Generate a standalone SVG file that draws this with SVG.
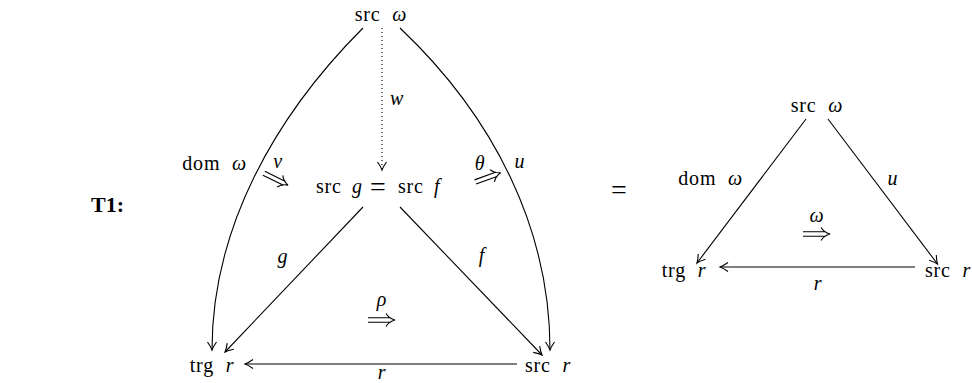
<svg xmlns="http://www.w3.org/2000/svg" width="972" height="383" viewBox="0 0 972 383">
<style>
text{font-family:"Liberation Serif","Times New Roman",serif;font-size:20px;fill:#000;letter-spacing:0.8px;word-spacing:6px}
.i{font-style:italic}
.b{font-weight:bold;font-size:22px;letter-spacing:0}
.eq{font-size:28px;letter-spacing:0}
.e{stroke:#000;stroke-width:1.1;fill:none}
.d{stroke:#000;stroke-width:1.1;fill:none;stroke-dasharray:1 3}
.m{text-anchor:middle}
.r{text-anchor:end}
</style>
<defs>
<marker id="ah" markerUnits="userSpaceOnUse" markerWidth="16" markerHeight="16" viewBox="-10 -8 12 16" refX="0" refY="0" orient="auto">
<path d="M-8,-4.5 Q-3,-1 0,0 Q-3,1 -8,4.5" stroke="#000" stroke-width="1.1" fill="none"/>
</marker>
<g id="dar">
<path d="M-13,-2.2 L10,-2.2 M-13,2.2 L10,2.2 M5,-6.5 Q8,-1.5 14,0 Q8,1.5 5,6.5" stroke="#000" stroke-width="1.1" fill="none"/>
</g>
</defs>

<text class="b" x="91" y="212">T1:</text>
<text x="619" y="199" class="m eq">=</text>

<g id="connectors">
<path class="e" d="M363,28 C273,118 212,230 212,350" marker-end="url(#ah)"/>
<path class="e" d="M400,28 C495,118 550,230 550,350" marker-end="url(#ah)"/>
<path class="d" d="M382,28 L382,170" marker-end="url(#ah)"/>
<path class="e" d="M363,207 L225,352" marker-end="url(#ah)"/>
<path class="e" d="M400,207 L542,355" marker-end="url(#ah)"/>
<path class="e" d="M517,364 L245,364" marker-end="url(#ah)"/>
<path class="e" d="M806,119 L697,263" marker-end="url(#ah)"/>
<path class="e" d="M828,119 L937.5,264" marker-end="url(#ah)"/>
<path class="e" d="M915,267 L720,267" marker-end="url(#ah)"/>
<use href="#dar" transform="translate(275.5,179) rotate(26)"/>
<use href="#dar" transform="translate(487.5,177.5) rotate(-20)"/>
<use href="#dar" transform="translate(381,320)"/>
<use href="#dar" transform="translate(816,234)"/>
</g>

<g id="labels">
<text class="i" x="390" y="105">w</text>
<text class="i m" x="278" y="168">ν</text>
<text class="i m" x="480" y="170">θ</text>
<text class="i m" x="520" y="168">u</text>
<text class="i m" x="283" y="263">g</text>
<text class="i m" x="482" y="262">f</text>
<text class="i m" x="382" y="306">ρ</text>
<text class="i m" x="382" y="379">r</text>
<text class="i m" x="893" y="185">u</text>
<text class="i m" x="817" y="222">ω</text>
<text class="i m" x="818" y="290">r</text>
</g>

<g id="n-src-omega"><text class="m" x="381" y="21">src <tspan class="i">ω</tspan></text></g>
<g id="n-src-g-f"><text x="316" y="193">src<tspan class="i" x="352">g</tspan><tspan class="eq" x="370" y="196">=</tspan><tspan x="398" y="193">src</tspan><tspan class="i" x="434">f</tspan></text></g>
<g id="n-dom-omega"><text class="r" x="247" y="170">dom <tspan class="i">ω</tspan></text></g>
<g id="n-trg-r"><text class="m" x="212" y="372">trg <tspan class="i">r</tspan></text></g>
<g id="n-src-r"><text class="m" x="548" y="372">src <tspan class="i">r</tspan></text></g>

<g id="n2-src-omega"><text class="m" x="817" y="112">src <tspan class="i">ω</tspan></text></g>
<g id="n2-dom-omega"><text class="r" x="743" y="185">dom <tspan class="i">ω</tspan></text></g>
<g id="n2-trg-r"><text class="m" x="684" y="277">trg <tspan class="i">r</tspan></text></g>
<g id="n2-src-r"><text class="r" x="971" y="277">src <tspan class="i">r</tspan></text></g>
</svg>
